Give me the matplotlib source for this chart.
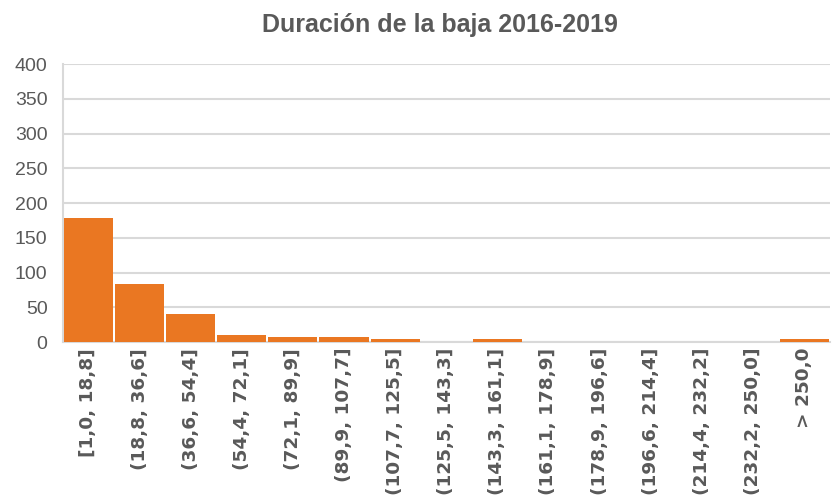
import matplotlib
matplotlib.use("Agg")
import matplotlib.pyplot as plt

categories = ["[1,0, 18,8]", "(18,8, 36,6]", "(36,6, 54,4]", "(54,4, 72,1]",
              "(72,1, 89,9]", "(89,9, 107,7]", "(107,7, 125,5]", "(125,5, 143,3]",
              "(143,3, 161,1]", "(161,1, 178,9]", "(178,9, 196,6]", "(196,6, 214,4]",
              "(214,4, 232,2]", "(232,2, 250,0]", "> 250,0"]
counts = [178, 83, 41, 11, 8, 8, 5, 1, 5, 0, 1, 0, 1, 0, 5]
yticks = [0, 50, 100, 150, 200, 250, 300, 350, 400]

plt.rcParams['font.family'] = ['Liberation Sans', 'DejaVu Sans']
gray = '#595959'

fig = plt.figure(figsize=(8.38, 5.04), dpi=100)
ax = fig.add_axes([0.075, 0.321, 0.915, 0.552])
x = list(range(len(categories)))
ax.bar(x, counts, width=0.96, color='#ea7722', zorder=3)
ax.set_xlim(-0.5, len(categories) - 0.5)
ax.set_ylim(0, 400)
ax.set_yticks(yticks)
ax.set_xticks(x)
ax.set_xticklabels(categories, rotation=90, fontsize=13.3, fontweight='bold', color=gray,
                   family='DejaVu Sans')
ax.tick_params(axis='y', labelsize=14, colors=gray, length=0, pad=11)
ax.tick_params(axis='x', length=0, pad=4)
ax.grid(axis='y', color='#d9d9d9', linewidth=1.5, zorder=0)
for s in ['top', 'right']:
    ax.spines[s].set_visible(False)
ax.spines['left'].set_color('#d9d9d9')
ax.spines['left'].set_linewidth(1.5)
ax.spines['bottom'].set_color('#d9d9d9')
ax.spines['bottom'].set_linewidth(1.5)
fig.suptitle("Duración de la baja 2016-2019", x=0.525, y=0.975, fontsize=18,
             fontweight='bold', color=gray)
fig.savefig("out.png", dpi=100, facecolor='white')
